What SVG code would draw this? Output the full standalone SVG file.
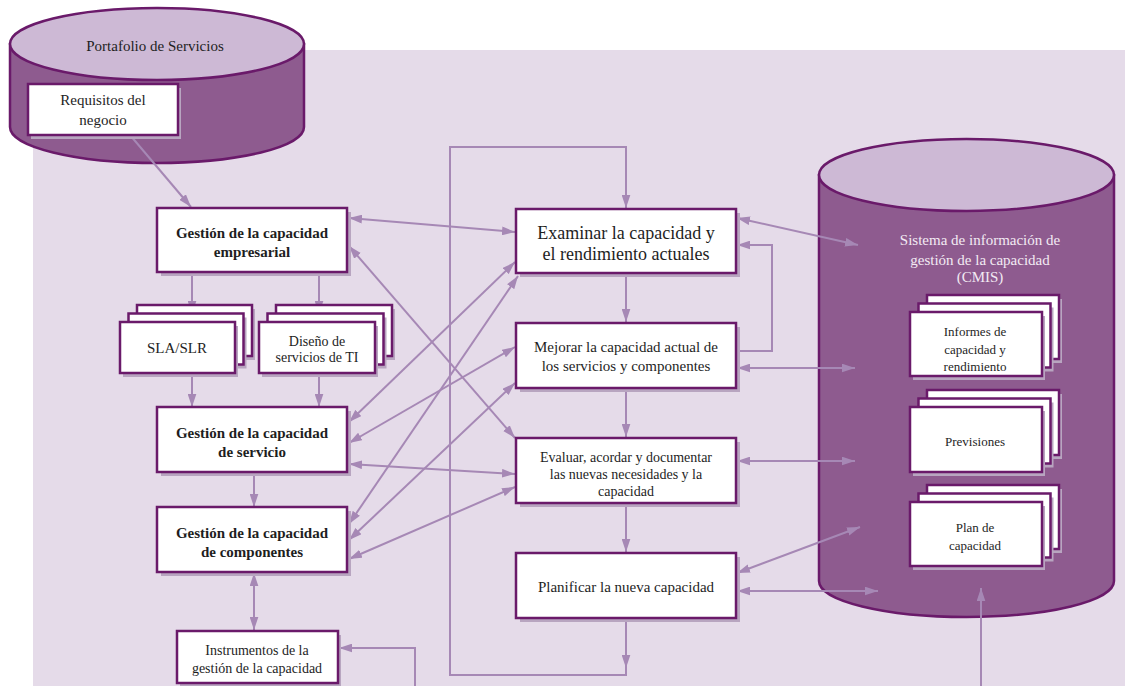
<svg xmlns="http://www.w3.org/2000/svg" width="1125" height="686" viewBox="0 0 1125 686">
  <style>
    .bg { fill: #e5dbe9; }
    .cyl { fill: #8e5b8f; stroke: #6a1a6a; stroke-width: 2.5; }
    .cyltop { fill: #cdb9d5; stroke: #6a1a6a; stroke-width: 2.5; }
    .box { fill: #ffffff; stroke: #6a1a6a; stroke-width: 2.5; }
    .sh { fill: #b8a5c0; }
    .conn { fill: none; stroke: #a688b5; stroke-width: 2; }
    .t { fill: #1e1e1e; text-anchor: middle; }
    .b { font-weight: bold; font-size: 15px; }
    .light { fill: #f2eaf3; }
  </style>
  <defs>
    <marker id="ah" viewBox="0 0 12 8" refX="12" refY="4" markerWidth="13" markerHeight="9" markerUnits="userSpaceOnUse" orient="auto-start-reverse">
      <path d="M0,0 L12,4 L0,8 Z" fill="#a688b5"/>
    </marker>
  </defs>

  <!-- backdrop panel -->
  <rect class="bg" x="33" y="50" width="1092" height="636"/>

  <g font-family="'Liberation Serif', 'Tinos', 'DejaVu Serif', serif">

  <!-- service portfolio store -->
  <g id="portafolio">
    <path class="cyl" d="M10,44 V127 A147,36 0 0 0 304,127 V44 Z"/>
    <ellipse class="cyltop" cx="157" cy="44" rx="147" ry="36"/>
    <text class="t" x="155" y="51" font-size="15">Portafolio de Servicios</text>
  </g>

  <!-- capacity management information system store -->
  <g id="cmis">
    <path class="cyl" d="M819,175 V581 A147.5,36 0 0 0 1114,581 V175 Z"/>
    <ellipse class="cyltop" cx="966.5" cy="175" rx="147.5" ry="36"/>
    <text class="t light" x="980" y="245" font-size="15">Sistema de información de</text>
    <text class="t light" x="980" y="265" font-size="15">gestión de la capacidad</text>
    <text class="t light" x="980" y="282" font-size="15">(CMIS)</text>
  </g>

  <!-- connectors -->
  <g id="connectors" class="conn">
    <line x1="130" y1="135" x2="191" y2="207" marker-end="url(#ah)"/>
    <line x1="192" y1="272" x2="192" y2="314" marker-end="url(#ah)"/>
    <line x1="319" y1="272" x2="319" y2="314" marker-end="url(#ah)"/>
    <line x1="192" y1="373" x2="192" y2="407" marker-end="url(#ah)"/>
    <line x1="319" y1="373" x2="319" y2="407" marker-end="url(#ah)"/>
    <line x1="254" y1="472" x2="254" y2="507" marker-end="url(#ah)"/>
    <line x1="254" y1="573" x2="254" y2="630" marker-start="url(#ah)" marker-end="url(#ah)"/>
    <path d="M415,686 V648 H339" marker-end="url(#ah)"/>

    <line x1="349" y1="218" x2="515" y2="232" marker-start="url(#ah)" marker-end="url(#ah)"/>
    <line x1="349" y1="246" x2="515" y2="438" marker-start="url(#ah)" marker-end="url(#ah)"/>
    <line x1="349" y1="422" x2="515" y2="262" marker-start="url(#ah)" marker-end="url(#ah)"/>
    <line x1="349" y1="443" x2="515" y2="347" marker-start="url(#ah)" marker-end="url(#ah)"/>
    <line x1="349" y1="464" x2="515" y2="474" marker-start="url(#ah)" marker-end="url(#ah)"/>
    <line x1="349" y1="524" x2="518" y2="276" marker-start="url(#ah)" marker-end="url(#ah)"/>
    <line x1="349" y1="540" x2="515" y2="383" marker-start="url(#ah)" marker-end="url(#ah)"/>
    <line x1="349" y1="559" x2="515" y2="487" marker-start="url(#ah)" marker-end="url(#ah)"/>

    <line x1="626" y1="273" x2="626" y2="322" marker-end="url(#ah)"/>
    <line x1="626" y1="388" x2="626" y2="437" marker-end="url(#ah)"/>
    <line x1="626" y1="503" x2="626" y2="552" marker-end="url(#ah)"/>
    <line x1="626" y1="618" x2="626" y2="668" marker-end="url(#ah)"/>
    <path d="M626,666 V675 H450 V147 H626 V208" marker-end="url(#ah)"/>

    <line x1="737" y1="218" x2="858" y2="245" marker-start="url(#ah)" marker-end="url(#ah)"/>
    <path d="M736,351 H772 V245 H737" marker-end="url(#ah)"/>
    <line x1="737" y1="368" x2="855" y2="368" marker-start="url(#ah)" marker-end="url(#ah)"/>
    <line x1="737" y1="461" x2="855" y2="461" marker-start="url(#ah)" marker-end="url(#ah)"/>
    <line x1="737" y1="573" x2="860" y2="527" marker-start="url(#ah)" marker-end="url(#ah)"/>
    <line x1="737" y1="591" x2="878" y2="591" marker-start="url(#ah)" marker-end="url(#ah)"/>
    <line x1="981" y1="686" x2="981" y2="588" marker-end="url(#ah)"/>
  </g>

  <g id="requisitos">
    <rect class="sh" x="31" y="88" width="150" height="51"/>
    <rect class="box" x="28" y="84" width="150" height="51"/>
    <text class="t" x="103" y="105" font-size="15">Requisitos del</text>
    <text class="t" x="103" y="125" font-size="15">negocio</text>
  </g>

  <g id="empresarial">
    <rect class="sh" x="161" y="212" width="190" height="64"/>
    <rect class="box" x="157" y="208" width="190" height="64"/>
    <text class="t b" x="252" y="238">Gestión de la capacidad</text>
    <text class="t b" x="252" y="257">empresarial</text>
  </g>

  <g id="sla">
    <rect class="sh" x="140" y="309" width="115" height="51"/>
    <rect class="box" x="137" y="305" width="115" height="51"/>
    <rect class="sh" x="131.5" y="317.5" width="115" height="51"/>
    <rect class="box" x="128.5" y="313.5" width="115" height="51"/>
    <rect class="sh" x="123" y="326" width="115" height="51"/>
    <rect class="box" x="120" y="322" width="115" height="51"/>
    <text class="t" x="177" y="353" font-size="15">SLA/SLR</text>
  </g>

  <g id="diseno">
    <rect class="sh" x="279" y="309" width="116" height="51"/>
    <rect class="box" x="276" y="305" width="116" height="51"/>
    <rect class="sh" x="270.5" y="317.5" width="116" height="51"/>
    <rect class="box" x="267.5" y="313.5" width="116" height="51"/>
    <rect class="sh" x="262" y="326" width="116" height="51"/>
    <rect class="box" x="259" y="322" width="116" height="51"/>
    <text class="t" x="317" y="346" font-size="14">Diseño de</text>
    <text class="t" x="317" y="362" font-size="14">servicios de TI</text>
  </g>

  <g id="servicio">
    <rect class="sh" x="161" y="411" width="190" height="65"/>
    <rect class="box" x="157" y="407" width="190" height="65"/>
    <text class="t b" x="252" y="438">Gestión de la capacidad</text>
    <text class="t b" x="252" y="457">de servicio</text>
  </g>

  <g id="componentes">
    <rect class="sh" x="161" y="511" width="190" height="65"/>
    <rect class="box" x="157" y="507" width="190" height="65"/>
    <text class="t b" x="252" y="538">Gestión de la capacidad</text>
    <text class="t b" x="252" y="557">de componentes</text>
  </g>

  <g id="instrumentos">
    <rect class="sh" x="180" y="635" width="161" height="52"/>
    <rect class="box" x="177" y="631" width="161" height="52"/>
    <text class="t" x="257" y="655" font-size="14">Instrumentos de la</text>
    <text class="t" x="257" y="673" font-size="14">gestión de la capacidad</text>
  </g>

  <g id="examinar">
    <rect class="sh" x="520" y="213" width="220" height="64"/>
    <rect class="box" x="516" y="209" width="220" height="64"/>
    <text class="t" x="626" y="239" font-size="18">Examinar la capacidad y</text>
    <text class="t" x="626" y="260" font-size="18">el rendimiento actuales</text>
  </g>

  <g id="mejorar">
    <rect class="sh" x="520" y="327" width="220" height="65"/>
    <rect class="box" x="516" y="323" width="220" height="65"/>
    <text class="t" x="626" y="352" font-size="15">Mejorar la capacidad actual de</text>
    <text class="t" x="626" y="371" font-size="15">los servicios y componentes</text>
  </g>

  <g id="evaluar">
    <rect class="sh" x="520" y="442" width="220" height="65"/>
    <rect class="box" x="516" y="438" width="220" height="65"/>
    <text class="t" x="626" y="462" font-size="14">Evaluar, acordar y documentar</text>
    <text class="t" x="626" y="479" font-size="14">las nuevas necesidades y la</text>
    <text class="t" x="626" y="496" font-size="14">capacidad</text>
  </g>

  <g id="planificar">
    <rect class="sh" x="520" y="557" width="220" height="65"/>
    <rect class="box" x="516" y="553" width="220" height="65"/>
    <text class="t" x="626" y="592" font-size="15">Planificar la nueva capacidad</text>
  </g>

  <g id="informes">
    <rect class="sh" x="930" y="299" width="132" height="64"/>
    <rect class="box" x="927" y="295" width="132" height="64"/>
    <rect class="sh" x="921.5" y="307.5" width="132" height="64"/>
    <rect class="box" x="918.5" y="303.5" width="132" height="64"/>
    <rect class="sh" x="913" y="316" width="132" height="64"/>
    <rect class="box" x="910" y="312" width="132" height="64"/>
    <text class="t" x="975" y="336" font-size="13">Informes de</text>
    <text class="t" x="975" y="354" font-size="13">capacidad y</text>
    <text class="t" x="975" y="371" font-size="13">rendimiento</text>
  </g>

  <g id="previsiones">
    <rect class="sh" x="930" y="394" width="132" height="65"/>
    <rect class="box" x="927" y="390" width="132" height="65"/>
    <rect class="sh" x="921.5" y="402.5" width="132" height="65"/>
    <rect class="box" x="918.5" y="398.5" width="132" height="65"/>
    <rect class="sh" x="913" y="411" width="132" height="65"/>
    <rect class="box" x="910" y="407" width="132" height="65"/>
    <text class="t" x="975" y="446" font-size="13">Previsiones</text>
  </g>

  <g id="plan">
    <rect class="sh" x="930" y="489" width="132" height="64"/>
    <rect class="box" x="927" y="485" width="132" height="64"/>
    <rect class="sh" x="921.5" y="497.5" width="132" height="64"/>
    <rect class="box" x="918.5" y="493.5" width="132" height="64"/>
    <rect class="sh" x="913" y="506" width="132" height="64"/>
    <rect class="box" x="910" y="502" width="132" height="64"/>
    <text class="t" x="975" y="532" font-size="13">Plan de</text>
    <text class="t" x="975" y="550" font-size="13">capacidad</text>
  </g>

  </g>
</svg>
